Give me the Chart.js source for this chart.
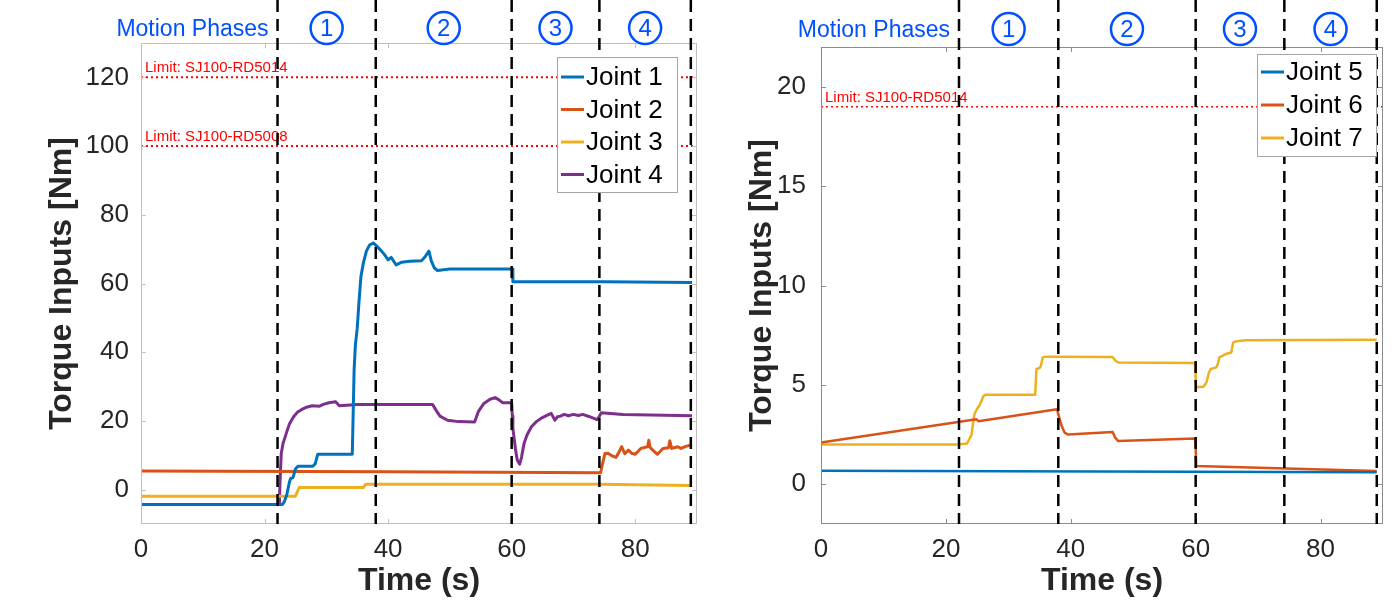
<!DOCTYPE html>
<html>
<head>
  <meta charset="utf-8">
  <title>Torque Inputs</title>
  <script src="https://cdn.jsdelivr.net/npm/chart.js"></script>
  <style>
    body {
      margin: 0;
      background: #ffffff;
    }
    .panel {
      position: absolute;
      top: 0;
    }
  </style>
</head>
<body>
  <canvas id="leftChart" class="panel" width="700" height="600" style="left:0px"></canvas>
  <canvas id="rightChart" class="panel" width="699" height="600" style="left:700px"></canvas>

<script>
// ===== data =====
const xTicks = [0, 20, 40, 60, 80];
const leftYTicks = [0, 20, 40, 60, 80, 100, 120];
const rightYTicks = [0, 5, 10, 15, 20];

const phaseTimes = [22.1, 38.0, 60.0, 74.2, 89.0];
const phaseNames = ['1', '2', '3', '4'];
const phaseTitle = 'Motion Phases';

const leftLimitValues = [120, 100];
const leftLimitLabels = ['Limit: SJ100-RD5014', 'Limit: SJ100-RD5008'];
const rightLimitValues = [19];
const rightLimitLabels = ['Limit: SJ100-RD5014'];

// Joint 1..4 (left panel)
const j1Time = [0, 22.9, 23.2, 23.6, 24.0, 24.2, 24.6, 25.0, 25.4, 27.8, 28.2, 28.6, 34.2, 34.5, 34.7, 35.0, 35.3, 35.6, 36.0, 36.5, 37.0, 37.6, 38.2, 38.9, 39.5, 40.0, 40.5, 41.3, 42.2, 43.5, 45.4, 46.0, 46.6, 47.0, 47.5, 48.0, 50.0, 60.1, 60.2, 75.0, 89.2];
const j1Torque = [-4.3, -4.3, -3.5, -1.5, 2.0, 3.2, 3.5, 6.0, 6.8, 6.8, 7.5, 10.3, 10.3, 35, 42, 47, 55, 62, 66, 69.5, 71.2, 71.8, 70.8, 69.5, 68.2, 66.9, 67.6, 65.4, 66.2, 66.5, 66.6, 67.8, 69.4, 66.5, 64.5, 63.8, 64.2, 64.2, 60.5, 60.5, 60.3];

const j2Time = [0, 40, 74.4, 74.7, 75.1, 75.6, 76.3, 76.9, 77.4, 77.8, 78.3, 78.9, 79.4, 80.0, 80.9, 82.0, 82.2, 82.4, 83.0, 83.6, 84.5, 85.4, 85.6, 85.9, 86.9, 87.4, 88.2, 89.2];
const j2Torque = [5.4, 5.2, 4.9, 7.5, 10.5, 10.6, 9.8, 9.4, 11.0, 12.5, 10.5, 11.5, 10.6, 10.3, 12.0, 12.5, 14.4, 12.3, 11.2, 10.3, 12.0, 12.2, 14.2, 12.0, 12.5, 12.0, 12.6, 13.1];

const j3Time = [0, 25.0, 25.6, 36.0, 36.4, 74.0, 89.2];
const j3Torque = [-1.9, -1.9, 0.6, 0.6, 1.6, 1.6, 1.2];

const j4Time = [0, 22.4, 22.5, 22.7, 23.0, 23.5, 24.0, 24.7, 25.3, 25.9, 26.8, 27.7, 28.9, 29.5, 30.4, 31.5, 32.1, 35.0, 47.2, 47.8, 48.4, 49.6, 51.4, 54.0, 54.6, 55.5, 56.5, 57.3, 57.9, 58.5, 60.0, 60.1, 60.2, 60.6, 60.9, 61.3, 61.6, 62.0, 62.5, 63.2, 64.0, 64.9, 65.7, 66.4, 67.0, 67.4, 67.9, 68.5, 69.2, 70.0, 70.8, 71.5, 72.5, 73.8, 74.1, 74.5, 78.0, 89.2];
const j4Torque = [-4.3, -4.3, 2, 10.5, 13.5, 16.3, 19.0, 21.2, 22.5, 23.2, 24.0, 24.4, 24.3, 24.8, 25.3, 25.6, 24.4, 24.8, 24.8, 23.0, 21.4, 20.2, 19.8, 19.7, 22.7, 25.1, 26.3, 26.8, 26.2, 25.3, 25.3, 21.5, 17.8, 12.0, 8.6, 7.4, 9.5, 13.4, 16.0, 18.3, 19.8, 20.9, 21.6, 22.2, 20.2, 21.2, 21.4, 21.9, 21.5, 21.9, 21.6, 21.9, 21.3, 20.4, 21.0, 22.4, 21.9, 21.5];

// Joint 5..7 (right panel)
const j5Time = [0, 89.0];
const j5Torque = [0.68, 0.6];

const j6Time = [0, 24.9, 25.2, 37.8, 38.2, 38.5, 39.0, 39.6, 46.7, 47.1, 47.6, 59.9, 60.0, 60.1, 89.0];
const j6Torque = [2.1, 3.27, 3.17, 3.77, 3.3, 2.97, 2.6, 2.5, 2.63, 2.35, 2.17, 2.3, 1.8, 0.92, 0.67];

const j7Time = [0, 21.9, 23.4, 23.8, 24.1, 24.4, 24.6, 25.0, 25.4, 25.7, 26.0, 26.3, 34.3, 34.5, 35.0, 35.2, 35.5, 36.0, 46.7, 47.2, 47.6, 59.9, 60.0, 60.1, 61.2, 61.6, 61.8, 62.1, 62.4, 63.3, 63.6, 63.8, 64.8, 65.7, 66.0, 66.5, 68.0, 89.0];
const j7Torque = [2.0, 2.0, 2.05, 2.3, 2.47, 3.2, 3.55, 3.8, 3.97, 4.2, 4.43, 4.5, 4.5, 5.8, 5.85, 5.95, 6.38, 6.42, 6.4, 6.2, 6.13, 6.1, 5.2, 4.88, 4.9, 5.05, 5.2, 5.6, 5.8, 5.88, 6.1, 6.38, 6.55, 6.63, 7.13, 7.2, 7.25, 7.27];

// ===== helpers =====
const FONT = '"Liberation Sans", Arial, sans-serif';
const BLUE_TXT = '#0050ff';

function pts(xs, ys) {
  return xs.map((x, i) => ({ x: x, y: ys[i] }));
}

function jointSet(label, xs, ys, color, width) {
  return {
    label: label,
    joint: true,
    data: pts(xs, ys),
    borderColor: color,
    backgroundColor: color,
    borderWidth: width,
    pointRadius: 0,
    tension: 0,
    borderJoinStyle: 'round'
  };
}

function limitSet(value, width) {
  return {
    label: 'limit',
    data: [{ x: 0, y: value }, { x: 90, y: value }],
    borderColor: '#ff0000',
    borderWidth: width,
    borderDash: [2, 3],
    pointRadius: 0
  };
}

// dashed phase lines, phase markers, limit labels, axes box and the legend
function decorPlugin(cfg) {
  return {
    id: 'decor',
    afterDatasetsDraw(chart) {
      const ctx = chart.ctx;
      const a = chart.chartArea;
      const xs = chart.scales.x;
      const ys = chart.scales.y;
      ctx.save();

      // limit labels
      ctx.font = '15px ' + FONT;
      ctx.fillStyle = '#ff0000';
      ctx.textAlign = 'left';
      ctx.textBaseline = 'alphabetic';
      cfg.limits.forEach((v, i) => {
        ctx.fillText(cfg.limitLabels[i], a.left + 4, ys.getPixelForValue(v) - 5);
      });

      // axes box with inward ticks
      ctx.strokeStyle = cfg.axisColor;
      ctx.lineWidth = 1;
      ctx.strokeRect(a.left + 0.5, a.top + 0.5, a.right - a.left - 1, a.bottom - a.top - 1);
      ctx.beginPath();
      xTicks.forEach(v => {
        const px = Math.round(xs.getPixelForValue(v)) + 0.5;
        ctx.moveTo(px, a.bottom); ctx.lineTo(px, a.bottom - 5);
        ctx.moveTo(px, a.top); ctx.lineTo(px, a.top + 5);
      });
      cfg.yTicks.forEach(v => {
        const py = Math.round(ys.getPixelForValue(v)) + 0.5;
        ctx.moveTo(a.left, py); ctx.lineTo(a.left + 5, py);
        ctx.moveTo(a.right, py); ctx.lineTo(a.right - 5, py);
      });
      ctx.stroke();

      // phase boundaries
      ctx.setLineDash([12, 7]);
      ctx.lineWidth = 2.5;
      ctx.strokeStyle = '#000000';
      phaseTimes.forEach(t => {
        const px = xs.getPixelForValue(t);
        ctx.beginPath();
        ctx.moveTo(px, 0);
        ctx.lineTo(px, a.bottom);
        ctx.stroke();
      });
      ctx.setLineDash([]);

      // phase title and circled numbers
      ctx.fillStyle = BLUE_TXT;
      ctx.strokeStyle = BLUE_TXT;
      ctx.font = '23px ' + FONT;
      ctx.textAlign = 'right';
      ctx.textBaseline = 'middle';
      ctx.fillText(phaseTitle, xs.getPixelForValue(phaseTimes[0]) - 9, cfg.phaseY + 2);
      ctx.textAlign = 'center';
      ctx.lineWidth = 2.5;
      ctx.font = '24px ' + FONT;
      phaseNames.forEach((n, i) => {
        const cx = (xs.getPixelForValue(phaseTimes[i]) + xs.getPixelForValue(phaseTimes[i + 1])) / 2;
        ctx.beginPath();
        ctx.arc(cx, cfg.phaseY, 16, 0, Math.PI * 2);
        ctx.stroke();
        ctx.fillText(n, cx, cfg.phaseY + 1);
      });

      // legend
      const L = cfg.legend;
      const lx = a.right - L.right - L.width;
      const ly = a.top + L.top;
      ctx.fillStyle = '#ffffff';
      ctx.fillRect(lx, ly, L.width, L.height);
      ctx.strokeStyle = '#a6a6a6';
      ctx.lineWidth = 1;
      ctx.strokeRect(lx + 0.5, ly + 0.5, L.width, L.height);
      ctx.font = L.font + 'px ' + FONT;
      ctx.textAlign = 'left';
      ctx.textBaseline = 'middle';
      chart.data.datasets.filter(d => d.joint).forEach((d, i) => {
        const y = ly + L.first + i * L.step;
        ctx.strokeStyle = d.borderColor;
        ctx.lineWidth = 3;
        ctx.beginPath();
        ctx.moveTo(lx + 4, y);
        ctx.lineTo(lx + 27, y);
        ctx.stroke();
        ctx.fillStyle = '#000000';
        ctx.fillText(d.label, lx + 29, y + 1);
      });

      ctx.restore();
    }
  };
}

function axisOptions(yMin, yMax, yTicks, yWidth, tickPad) {
  return {
    x: {
      type: 'linear',
      min: 0,
      max: 90,
      grid: { display: false, drawTicks: false },
      border: { display: false },
      afterBuildTicks: s => { s.ticks = xTicks.map(v => ({ value: v })); },
      afterFit: s => { s.height = 76; },
      ticks: {
        color: '#262626',
        padding: 10,
        maxRotation: 0,
        font: { family: FONT, size: 26 }
      },
      title: {
        display: true,
        text: 'Time (s)',
        color: '#262626',
        padding: { top: -2, bottom: 0 },
        font: { family: FONT, size: 32, weight: 'bold' }
      }
    },
    y: {
      type: 'linear',
      min: yMin,
      max: yMax,
      grid: { display: false, drawTicks: false },
      border: { display: false },
      afterBuildTicks: s => { s.ticks = yTicks.map(v => ({ value: v })); },
      afterFit: s => { s.width = yWidth; },
      ticks: {
        color: '#262626',
        padding: tickPad,
        font: { family: FONT, size: 26 }
      },
      title: {
        display: true,
        text: 'Torque Inputs [Nm]',
        color: '#262626',
        padding: { top: 43, bottom: 0 },
        font: { family: FONT, size: 32, weight: 'bold' }
      }
    }
  };
}

// === LEFT PANEL: joints 1-4 ===
new Chart(document.getElementById('leftChart'), {
  type: 'line',
  data: {
    datasets: [
      limitSet(leftLimitValues[0], 2),
      limitSet(leftLimitValues[1], 2),
      jointSet('Joint 1', j1Time, j1Torque, '#0072BD', 3),
      jointSet('Joint 2', j2Time, j2Torque, '#D95319', 3),
      jointSet('Joint 3', j3Time, j3Torque, '#EDB120', 3),
      jointSet('Joint 4', j4Time, j4Torque, '#7E2F8E', 3)
    ]
  },
  options: {
    responsive: false,
    animation: false,
    layout: { padding: { left: 0, right: 3, top: 43, bottom: 0 } },
    plugins: { legend: { display: false }, tooltip: { enabled: false } },
    scales: axisOptions(-10, 130, leftYTicks, 141, 12)
  },
  plugins: [decorPlugin({
    limits: leftLimitValues,
    limitLabels: leftLimitLabels,
    yTicks: leftYTicks,
    axisColor: '#bfbfbf',
    phaseY: 28,
    legend: { right: 20, top: 14, width: 120, height: 135, first: 20, step: 32.5, font: 26 }
  })]
});

// === RIGHT PANEL: joints 5-7 ===
new Chart(document.getElementById('rightChart'), {
  type: 'line',
  data: {
    datasets: [
      limitSet(rightLimitValues[0], 1.5),
      jointSet('Joint 5', j5Time, j5Torque, '#0072BD', 2.5),
      jointSet('Joint 6', j6Time, j6Torque, '#D95319', 2.5),
      jointSet('Joint 7', j7Time, j7Torque, '#EDB120', 2.5)
    ]
  },
  options: {
    responsive: false,
    animation: false,
    layout: { padding: { left: 0, right: 16, top: 47, bottom: 0 } },
    plugins: { legend: { display: false }, tooltip: { enabled: false } },
    scales: axisOptions(-2, 22, rightYTicks, 121, 15)
  },
  plugins: [decorPlugin({
    limits: rightLimitValues,
    limitLabels: rightLimitLabels,
    yTicks: rightYTicks,
    axisColor: '#8c8c8c',
    phaseY: 29,
    legend: { right: 7, top: 7, width: 119, height: 102, first: 18, step: 33, font: 26 }
  })]
});
</script>
</body>
</html>
